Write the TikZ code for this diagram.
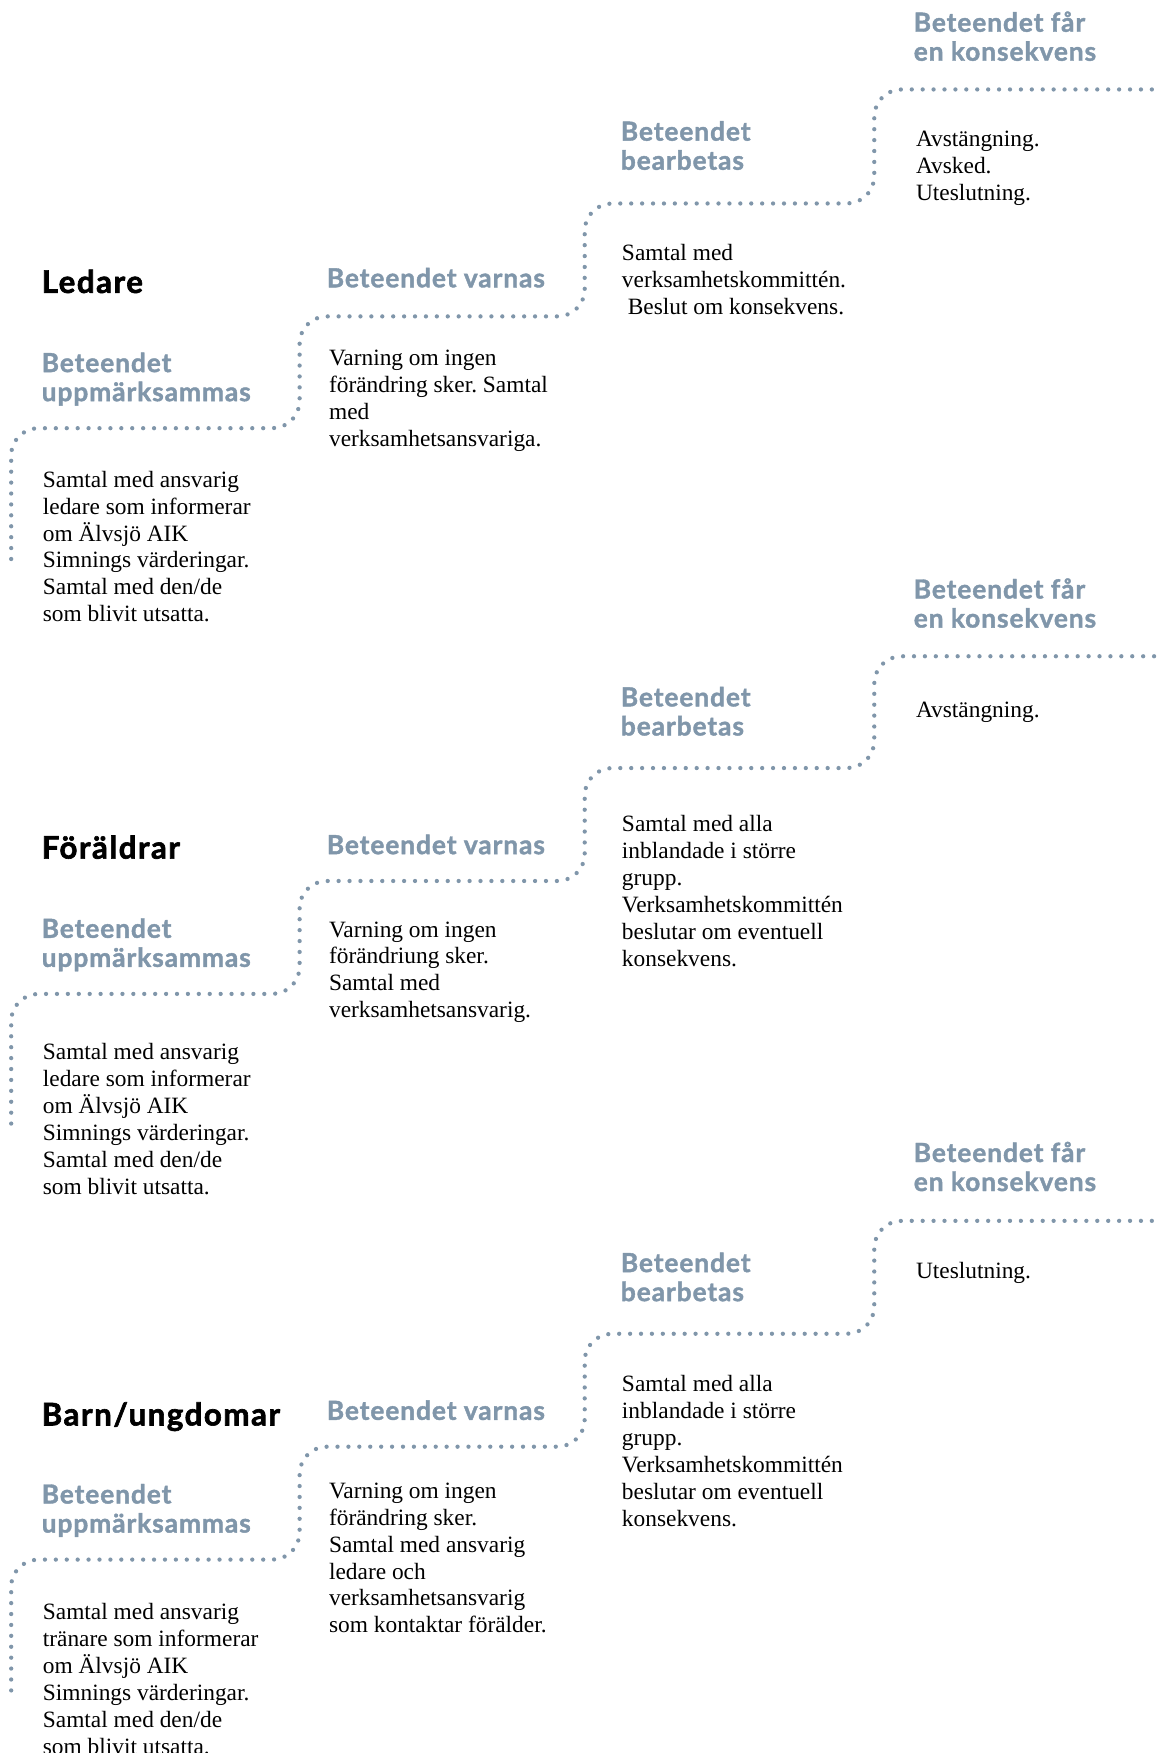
\documentclass[tikz,border=0pt]{standalone}
\usepackage{fontspec}
\setmainfont{Liberation Serif}
\newfontfamily\headfont{Lato}[LetterSpace=3.5, BoldFeatures={FakeBold=1.5}]
\newfontfamily\titlefont{Lato}[LetterSpace=5, BoldFeatures={FakeBold=2}]
\frenchspacing

\definecolor{stepgrey}{RGB}{128,150,170}

\begin{document}
\begin{tikzpicture}[
            x = 0.5737pt, % one pixel of the page
            y = -0.5737pt, % y runs downwards
            inner sep = 0pt
        ]

        \tikzstyle{grouptitle}=[
            anchor = base west,
            font = \titlefont\bfseries\fontsize{16}{18}\selectfont
        ]
        \tikzstyle{stagehead}=[
            anchor = north west,
            align = left,
            text = stepgrey,
            font = \headfont\bfseries\fontsize{13.5}{14.9}\selectfont
        ]
        \tikzstyle{stagetext}=[
            anchor = north west,
            align = left,
            font = \fontsize{12}{13.8}\selectfont
        ]
        \tikzstyle{stairline}=[
            draw = stepgrey,
            line width = 2.2pt,
            line cap = round,
            dash pattern = on 0pt off 5.6pt,
            rounded corners = 14pt
        ]

        \useasboundingbox (0,0) rectangle (1037,1568);

	% LEDARE
        \node[grouptitle] (G1) at (37,262) {Ledare};
        \node[stagehead] (A1) at (37,315) {Beteendet\\uppmärksammas};
        \node[stagehead, anchor = base west] (B1) at (292,257) {Beteendet varnas};
        \node[stagehead] (C1) at (555,108) {Beteendet\\bearbetas};
        \node[stagehead] (D1) at (817,10) {Beteendet får\\en konsekvens};

        \node[stagetext] (TA1) at (38,421) {Samtal med ansvarig\\ledare som informerar\\om Älvsjö AIK\\Simnings värderingar.\\Samtal med den/de\\som blivit utsatta.};
        \node[stagetext] (TB1) at (294,313) {Varning om ingen\\förändring sker. Samtal\\med\\verksamhetsansvariga.};
        \node[stagetext] (TC1) at (556,218) {Samtal med\\verksamhetskommittén.\\\ Beslut om konsekvens.};
        \node[stagetext] (TD1) at (819,117) {Avstängning.\\Avsked.\\Uteslutning.};

        \draw[stairline] (10,500) -- (10,383) -- (268,383) -- (268,283) -- (523,283)
            -- (523,182) -- (782,182) -- (782,80) -- (1037,80);

	% FÖRÄLDRAR
        \node[grouptitle] (G2) at (37,768) {Föräldrar};
        \node[stagehead] (A2) at (37,821) {Beteendet\\uppmärksammas};
        \node[stagehead, anchor = base west] (B2) at (292,764) {Beteendet varnas};
        \node[stagehead] (C2) at (555,614) {Beteendet\\bearbetas};
        \node[stagehead] (D2) at (817,517) {Beteendet får\\en konsekvens};

        \node[stagetext] (TA2) at (38,933) {Samtal med ansvarig\\ledare som informerar\\om Älvsjö AIK\\Simnings värderingar.\\Samtal med den/de\\som blivit utsatta.};
        \node[stagetext] (TB2) at (294,824) {Varning om ingen\\förändriung sker.\\Samtal med\\verksamhetsansvarig.};
        \node[stagetext] (TC2) at (556,729) {Samtal med alla\\inblandade i större\\grupp.\\Verksamhetskommittén\\beslutar om eventuell\\konsekvens.};
        \node[stagetext] (TD2) at (819,628) {Avstängning.};

        \draw[stairline] (10,1005) -- (10,889) -- (268,889) -- (268,788) -- (523,788)
            -- (523,687) -- (782,687) -- (782,587) -- (1037,587);

	% BARN/UNGDOMAR
        \node[grouptitle] (G3) at (37,1275) {Barn/ungdomar};
        \node[stagehead] (A3) at (37,1327) {Beteendet\\uppmärksammas};
        \node[stagehead, anchor = base west] (B3) at (292,1270) {Beteendet varnas};
        \node[stagehead] (C3) at (555,1120) {Beteendet\\bearbetas};
        \node[stagehead] (D3) at (817,1021) {Beteendet får\\en konsekvens};

        \node[stagetext] (TA3) at (38,1434) {Samtal med ansvarig\\tränare som informerar\\om Älvsjö AIK\\Simnings värderingar.\\Samtal med den/de\\som blivit utsatta.};
        \node[stagetext] (TB3) at (294,1326) {Varning om ingen\\förändring sker.\\Samtal med ansvarig\\ledare och\\verksamhetsansvarig\\som kontaktar förälder.};
        \node[stagetext] (TC3) at (556,1230) {Samtal med alla\\inblandade i större\\grupp.\\Verksamhetskommittén\\beslutar om eventuell\\konsekvens.};
        \node[stagetext] (TD3) at (819,1129) {Uteslutning.};

        \draw[stairline] (10,1512) -- (10,1395) -- (268,1395) -- (268,1294) -- (523,1294)
            -- (523,1193) -- (782,1193) -- (782,1092) -- (1037,1092);

  \end{tikzpicture}
\end{document}
